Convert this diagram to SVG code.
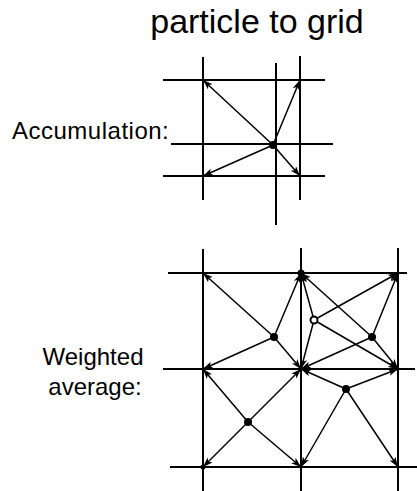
<svg xmlns="http://www.w3.org/2000/svg" width="417" height="491" viewBox="0 0 417 491">
<style>
.grid{stroke:#000;stroke-width:2;fill:none}
.arr{stroke:#000;stroke-width:1.5;fill:none;marker-end:url(#ah)}
.pt{fill:#000}
.ring{fill:#fff;stroke:#000;stroke-width:2}
text{font-family:"Liberation Sans",Arial,sans-serif;fill:#000}
</style>
<defs>
<marker id="ah" markerUnits="userSpaceOnUse" markerWidth="11" markerHeight="8" refX="10" refY="3.5" orient="auto">
<path d="M0,0 L10,3.5 L0,7 L2.5,3.5 z" fill="#000"/>
</marker>
</defs>
<text id="title" x="257" y="33" font-size="34" text-anchor="middle">particle to grid</text>
<g id="label-accumulation"><text x="12" y="139" font-size="24" letter-spacing="0.5">Accumulation:</text></g>
<g id="label-weighted"><text x="93" y="365" font-size="24" text-anchor="middle">Weighted</text><text x="95" y="395" font-size="24" text-anchor="middle">average:</text></g>
<g id="grid-top">
<line class="grid" x1="203" y1="57" x2="203" y2="200"/>
<line class="grid" x1="276" y1="63" x2="276" y2="225"/>
<line class="grid" x1="300" y1="56" x2="300" y2="200"/>
<line class="grid" x1="163" y1="80" x2="325" y2="80"/>
<line class="grid" x1="171" y1="144" x2="333" y2="144"/>
<line class="grid" x1="163" y1="176" x2="325" y2="176"/>
</g>
<g id="grid-bottom">
<line class="grid" x1="203" y1="249" x2="203" y2="491"/>
<line class="grid" x1="301" y1="248" x2="301" y2="491"/>
<line class="grid" x1="398" y1="248" x2="398" y2="491"/>
<line class="grid" x1="168" y1="273" x2="407" y2="273"/>
<line class="grid" x1="163" y1="369" x2="415" y2="369"/>
<line class="grid" x1="170" y1="467" x2="417" y2="467"/>
</g>
<g id="connectors">
<line class="arr" x1="273" y1="145" x2="203" y2="80"/>
<line class="arr" x1="273" y1="145" x2="300" y2="80"/>
<line class="arr" x1="273" y1="145" x2="203" y2="176"/>
<line class="arr" x1="273" y1="145" x2="300" y2="176"/>
<line class="arr" x1="274" y1="337" x2="203" y2="273"/>
<line class="arr" x1="274" y1="337" x2="301" y2="273"/>
<line class="arr" x1="274" y1="337" x2="203" y2="369"/>
<line class="arr" x1="274" y1="337" x2="301" y2="369"/>
<line class="arr" x1="314" y1="320" x2="301" y2="273"/>
<line class="arr" x1="314" y1="320" x2="398" y2="273"/>
<line class="arr" x1="314" y1="320" x2="301" y2="369"/>
<line class="arr" x1="314" y1="320" x2="398" y2="369"/>
<line class="arr" x1="372" y1="337" x2="301" y2="273"/>
<line class="arr" x1="372" y1="337" x2="398" y2="273"/>
<line class="arr" x1="372" y1="337" x2="301" y2="369"/>
<line class="arr" x1="372" y1="337" x2="398" y2="369"/>
<line class="arr" x1="346" y1="389" x2="301" y2="369"/>
<line class="arr" x1="346" y1="389" x2="398" y2="369"/>
<line class="arr" x1="346" y1="389" x2="301" y2="467"/>
<line class="arr" x1="346" y1="389" x2="398" y2="467"/>
<line class="arr" x1="248" y1="422" x2="203" y2="369"/>
<line class="arr" x1="248" y1="422" x2="301" y2="369"/>
<line class="arr" x1="248" y1="422" x2="203" y2="467"/>
<line class="arr" x1="248" y1="422" x2="301" y2="467"/>
</g>
<g id="particle-top"><circle class="pt" cx="273" cy="145" r="4"/></g>
<g id="particle-1"><circle class="pt" cx="274" cy="337" r="4"/></g>
<g id="particle-2"><circle class="ring" cx="314" cy="320" r="3.5"/></g>
<g id="particle-3"><circle class="pt" cx="372" cy="337" r="4"/></g>
<g id="particle-4"><circle class="pt" cx="346" cy="389" r="4"/></g>
<g id="particle-5"><circle class="pt" cx="248" cy="422" r="4"/></g>
<g id="nodes-dark"><circle class="pt" cx="301" cy="273" r="3.5"/><circle class="pt" cx="203" cy="467" r="2.5"/></g>
</svg>
